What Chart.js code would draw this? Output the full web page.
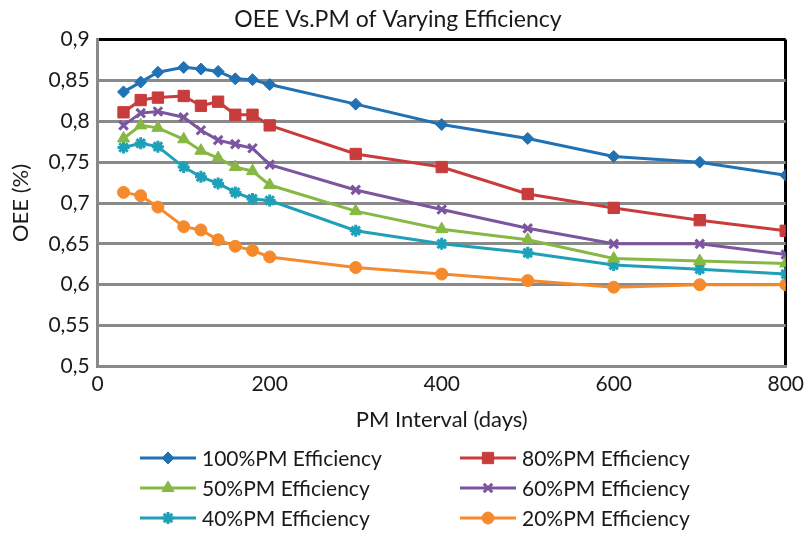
<!DOCTYPE html>
<html>
<head>
<meta charset="utf-8">
<script src="https://cdn.jsdelivr.net/npm/chart.js@4.4.0/dist/chart.umd.min.js"></script>
<style>
  html, body { margin: 0; padding: 0; background: #fff; }
  #wrap { width: 809px; height: 534px; }
</style>
</head>
<body>
<div id="wrap"><canvas id="c" width="809" height="534"></canvas></div>
<script>
// PM interval (days)
const intervals = [30, 50, 70, 100, 120, 140, 160, 180, 200, 300, 400, 500, 600, 700, 800];
// OEE per PM efficiency
const eff100 = [0.836, 0.848, 0.860, 0.866, 0.864, 0.861, 0.852, 0.851, 0.845, 0.821, 0.796, 0.779, 0.757, 0.750, 0.734];
const eff80  = [0.811, 0.826, 0.829, 0.831, 0.819, 0.824, 0.808, 0.808, 0.795, 0.760, 0.744, 0.711, 0.694, 0.679, 0.666];
const eff50  = [0.779, 0.795, 0.792, 0.778, 0.764, 0.755, 0.744, 0.739, 0.722, 0.690, 0.668, 0.655, 0.632, 0.629, 0.626];
const eff60  = [0.795, 0.810, 0.812, 0.805, 0.789, 0.777, 0.772, 0.767, 0.747, 0.716, 0.692, 0.669, 0.650, 0.650, 0.637];
const eff40  = [0.768, 0.773, 0.769, 0.744, 0.732, 0.724, 0.713, 0.705, 0.703, 0.666, 0.650, 0.639, 0.624, 0.619, 0.613];
const eff20  = [0.713, 0.709, 0.695, 0.671, 0.667, 0.655, 0.647, 0.642, 0.634, 0.621, 0.613, 0.605, 0.597, 0.600, 0.600];
const seriesLabels = ['100%PM Efficiency', '80%PM Efficiency', '50%PM Efficiency', '60%PM Efficiency', '40%PM Efficiency', '20%PM Efficiency'];
const xTicks = [0, 200, 400, 600, 800];
const yRange = [0.5, 0.9];

const FONT = 'Lato, "Open Sans", sans-serif';
const styles = [
  { color: '#2171b5', pointStyle: 'rectRot', radius: 6 },
  { color: '#c83c3c', pointStyle: 'rect', radius: 8 },
  { color: '#86b843', pointStyle: 'triangle', radius: 7 },
  { color: '#7c559f', pointStyle: 'crossRot', radius: 6 },
  { color: '#1fa0b9', pointStyle: 'star', radius: 6 },
  { color: '#f58a2c', pointStyle: 'circle', radius: 6 }
];
const values = [eff100, eff80, eff50, eff60, eff40, eff20];

const datasets = values.map((vals, i) => ({
  label: seriesLabels[i],
  data: vals.map((v, j) => ({ x: intervals[j], y: v })),
  borderColor: styles[i].color,
  backgroundColor: styles[i].color,
  pointBackgroundColor: styles[i].color,
  pointBorderColor: styles[i].color,
  pointStyle: styles[i].pointStyle,
  pointRadius: styles[i].radius,
  pointBorderWidth: (styles[i].pointStyle === 'crossRot' || styles[i].pointStyle === 'star') ? 3 : 1,
  borderWidth: 3,
  tension: 0,
  fill: false
}));

const legendPlugin = {
  id: 'twoColLegend',
  afterDraw(chart) {
    const ctx = chart.ctx;
    const cols = [140, 460];
    const rows = [458, 488, 518];
    const lineLen = 56;
    ctx.save();
    ctx.font = '21px ' + FONT;
    ctx.textBaseline = 'middle';
    chart.data.datasets.forEach((ds, i) => {
      const x = cols[i % 2];
      const y = rows[Math.floor(i / 2)];
      ctx.strokeStyle = ds.borderColor;
      ctx.lineWidth = 3;
      ctx.beginPath();
      ctx.moveTo(x, y);
      ctx.lineTo(x + lineLen, y);
      ctx.stroke();
      ctx.fillStyle = ds.pointBackgroundColor;
      ctx.strokeStyle = ds.pointBorderColor;
      ctx.lineWidth = ds.pointBorderWidth;
      Chart.helpers.drawPoint(ctx, { pointStyle: ds.pointStyle, radius: ds.pointRadius, rotation: 0, borderWidth: ds.pointBorderWidth }, x + lineLen / 2, y);
      ctx.fillStyle = '#1a1a1a';
      ctx.fillText(ds.label, x + lineLen + 6, y + 1);
    });
    ctx.restore();
  }
};

new Chart(document.getElementById('c'), {
  type: 'line',
  data: { datasets },
  options: {
    responsive: false,
    animation: false,
    devicePixelRatio: 1,
    layout: { padding: { left: 8, right: 21, top: 2, bottom: 101 } },
    plugins: {
      legend: { display: false },
      tooltip: { enabled: false },
      title: {
        display: true,
        text: 'OEE Vs.PM of Varying Efficiency',
        color: '#1a1a1a',
        font: { family: FONT, size: 23, weight: 'normal' },
        padding: { top: 4, bottom: 6 }
      }
    },
    scales: {
      x: {
        type: 'linear',
        min: xTicks[0],
        max: xTicks[xTicks.length - 1],
        afterBuildTicks(axis) { axis.ticks = xTicks.map(v => ({ value: v })); },
        grid: {
          drawTicks: false,
          lineWidth: 3,
          color: (c) => (c.tick && c.tick.value === xTicks[xTicks.length - 1]) ? '#000' : 'rgba(0,0,0,0)'
        },
        border: { color: '#8a8a8a', width: 3 },
        ticks: { color: '#1a1a1a', font: { family: FONT, size: 21 }, padding: 5, maxRotation: 0 },
        title: { display: true, text: 'PM Interval (days)', color: '#1a1a1a', font: { family: FONT, size: 22 }, padding: { top: 5, bottom: 0 } }
      },
      y: {
        min: yRange[0],
        max: yRange[1],
        ticks: {
          stepSize: 0.05,
          color: '#1a1a1a',
          font: { family: FONT, size: 21 },
          padding: 8,
          callback: (v) => String(parseFloat(v.toFixed(2))).replace('.', ',')
        },
        grid: {
          drawTicks: false,
          lineWidth: 3,
          color: (c) => (c.tick && Math.abs(c.tick.value - yRange[1]) < 1e-9) ? '#000' : '#8a8a8a'
        },
        border: { color: '#8a8a8a', width: 3 },
        title: { display: true, text: 'OEE (%)', color: '#1a1a1a', font: { family: FONT, size: 22 }, padding: { top: 0, bottom: 6 } }
      }
    }
  },
  plugins: [legendPlugin]
});
</script>
</body>
</html>
